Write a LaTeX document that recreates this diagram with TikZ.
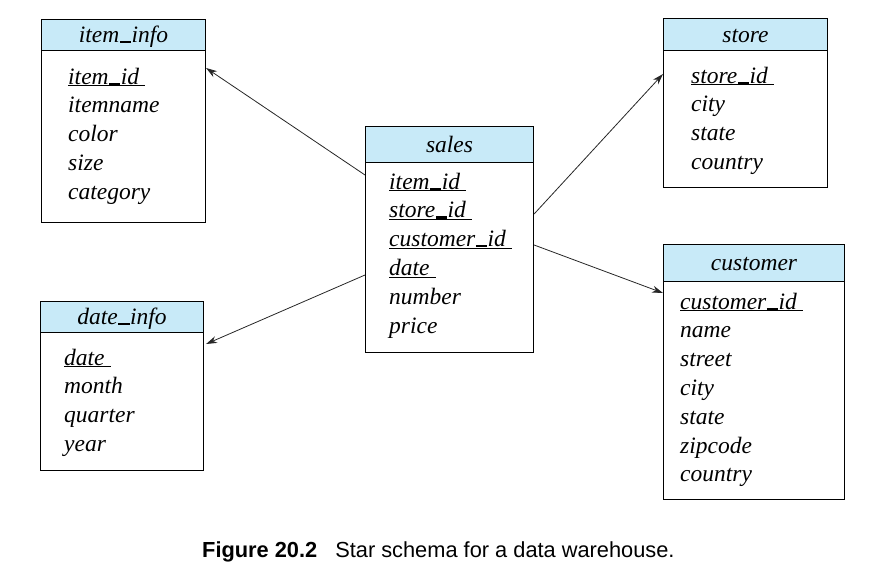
\documentclass[tikz,border=0pt]{standalone}
\usepackage{fontspec}
\setmainfont{Liberation Serif}
\setsansfont{Liberation Sans}
\usetikzlibrary{arrows.meta}
\definecolor{hdrblue}{HTML}{C8EAF8}
\newcommand\us{\kern0.02em\rule[-0.03em]{0.48em}{0.09em}\kern0.02em}
\newcommand\pk[1]{\underline{\smash{#1}\ }}
\begin{document}
\begin{tikzpicture}[x=1pt,y=-1pt,
  box/.style={draw=black, line width=1.1pt, inner sep=0pt, anchor=north west},
  hdr/.style={box, fill=hdrblue, font=\rmfamily\fontsize{23.5}{28.8}\selectfont\itshape, text height=15pt, text depth=0pt},
  body/.style={box, fill=white},
  attr/.style={anchor=base west, inner sep=0pt, font=\rmfamily\fontsize{23.5}{28.8}\selectfont\itshape},
  arr/.style={-{Stealth[length=11pt,width=7pt]}, line width=0.8pt, draw=black!85},
]
\useasboundingbox (0,0) rectangle (878,568);

% item_info
\node[body, minimum width=164pt, minimum height=172pt] (itemB) at (41,50) {};
\node[hdr, minimum width=164pt, minimum height=31pt] (itemH) at (41,19) {item\us info};
\foreach \t [count=\i] in {\pk{item\us id},itemname,color,size,category}
  \node[attr] (item\i) at (68,{84+28.8*(\i-1)}) {\t};

% sales
\node[body, minimum width=168pt, minimum height=190pt] (salesB) at (365,162) {};
\node[hdr, minimum width=168pt, minimum height=36pt] (salesH) at (365,126) {sales};
\foreach \t [count=\i] in {\pk{item\us id},\pk{store\us id},\pk{customer\us id},\pk{date},number,price}
  \node[attr] (sales\i) at (389,{189+28.8*(\i-1)}) {\t};

% store
\node[body, minimum width=164pt, minimum height=137pt] (storeB) at (663,50) {};
\node[hdr, minimum width=164pt, minimum height=32pt] (storeH) at (663,18) {store};
\foreach \t [count=\i] in {\pk{store\us id},city,state,country}
  \node[attr] (store\i) at (691,{83+28.8*(\i-1)}) {\t};

% customer
\node[body, minimum width=181pt, minimum height=218pt] (custB) at (663,281) {};
\node[hdr, minimum width=181pt, minimum height=37pt] (custH) at (663,244) {customer};
\foreach \t [count=\i] in {\pk{customer\us id},name,street,city,state,zipcode,country}
  \node[attr] (cust\i) at (680,{309+28.8*(\i-1)}) {\t};

% date_info
\node[body, minimum width=163pt, minimum height=138pt] (dateB) at (40,332) {};
\node[hdr, minimum width=163pt, minimum height=31pt] (dateH) at (40,301) {date\us info};
\foreach \t [count=\i] in {\pk{date},month,quarter,year}
  \node[attr] (date\i) at (64,{365+28.8*(\i-1)}) {\t};

% connectors
\draw[arr] ([yshift=-13pt]salesB.north west) -- ([yshift=-18pt]itemB.north east);
\draw[arr] ([yshift=-113pt]salesB.north west) -- ([xshift=2pt,yshift=-12pt]dateB.north east);
\draw[arr] ([yshift=-52pt]salesB.north east) -- ([yshift=-24pt]storeB.north west);
\draw[arr] ([yshift=-83pt]salesB.north east) -- ([yshift=-12pt]custB.north west);

% caption
\node[anchor=base west, inner sep=0pt, font=\sffamily\fontsize{21.8}{26}\selectfont] (cap) at (202,557)
  {\textbf{Figure 20.2}\hspace{18pt}Star schema for a data warehouse.};
\end{tikzpicture}
\end{document}
